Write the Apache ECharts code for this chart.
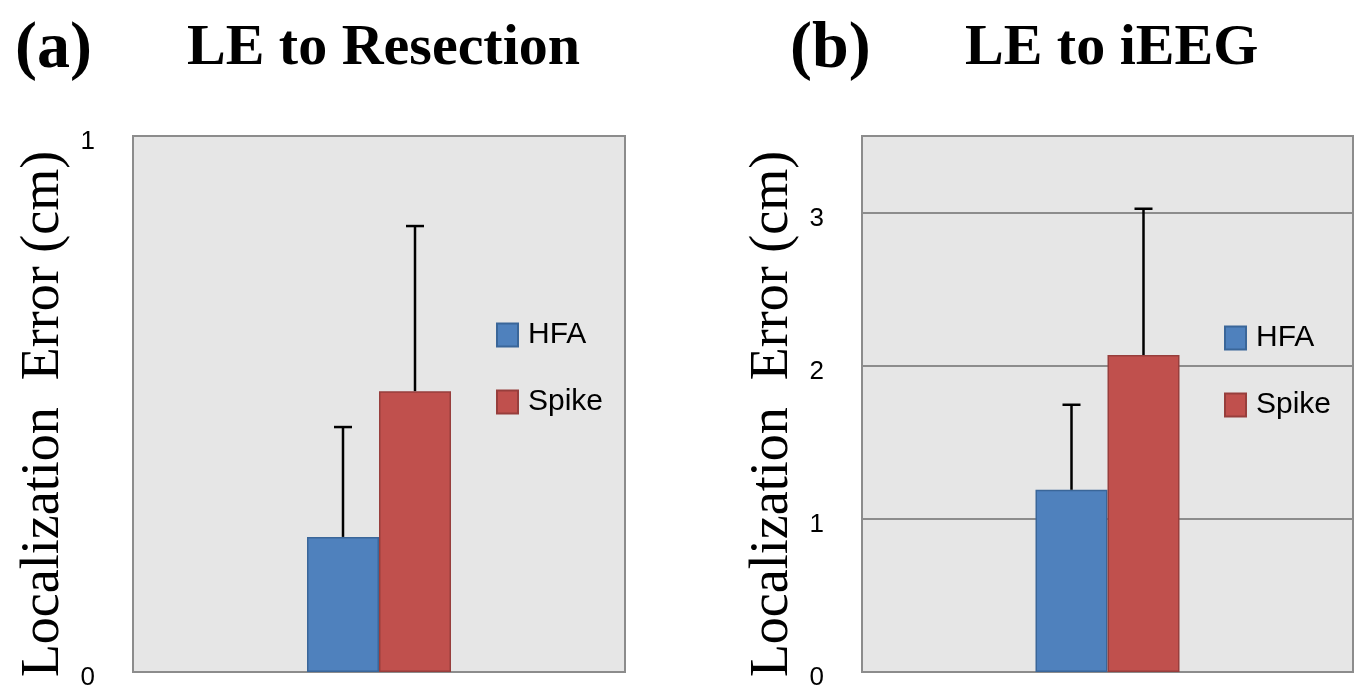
<!DOCTYPE html>
<html>
<head>
<meta charset="utf-8">
<script src="https://cdn.jsdelivr.net/npm/echarts@6/dist/echarts.min.js"></script>
<style>
html,body{margin:0;padding:0;background:#fff;}
#chart{width:1360px;height:685px;}
</style>
</head>
<body>
<div id="chart"></div>
<script>
// ---- data ----
const categories = [''];
const seriesNames = ['HFA', 'Spike'];
// (a) LE to Resection
const resectionHFA = [0.252];
const resectionHFAErr = [0.205];
const resectionSpike = [0.524];
const resectionSpikeErr = [0.308];
// (b) LE to iEEG
const ieegHFA = [1.19];
const ieegHFAErr = [0.555];
const ieegSpike = [2.07];
const ieegSpikeErr = [0.955];
// axis ticks
const resectionAxis = {min: 0, max: 1, interval: 1};
const ieegAxis = {min: 0, max: 3.5, interval: 1};
const panelTitles = ['LE to Resection', 'LE to iEEG'];
const panelTags = ['(a)', '(b)'];
const yAxisName = 'Localization  Error (cm)';

// ---- styles ----
const BLUE = '#4f81bd', BLUE_EDGE = '#3a6699';
const RED = '#c0504d', RED_EDGE = '#973e3c';
const BAR_W = 72;
const serif = '"Liberation Serif", "Times New Roman", serif';
const sans = '"Liberation Sans", Arial, sans-serif';

function errSeries(name, gridIdx, values, errs, offsetSign) {
  return {
    type: 'custom',
    name: name + ' err',
    xAxisIndex: gridIdx, yAxisIndex: gridIdx,
    z: 5,
    silent: true,
    data: values.map((v, i) => [i, v, v + errs[i]]),
    renderItem: function (params, api) {
      const base = api.coord([api.value(0), api.value(1)]);
      const top = api.coord([api.value(0), api.value(2)]);
      const x = base[0] + offsetSign * BAR_W / 2;
      const cap = 9;
      return {
        type: 'group',
        children: [
          {type: 'line', shape: {x1: x, y1: base[1], x2: x, y2: top[1]},
           style: {stroke: '#000', lineWidth: 2.5}},
          {type: 'line', shape: {x1: x - cap, y1: top[1], x2: x + cap, y2: top[1]},
           style: {stroke: '#000', lineWidth: 2.5}}
        ]
      };
    }
  };
}

function barSeries(name, gridIdx, values, color, edge) {
  return {
    type: 'bar', name: name,
    xAxisIndex: gridIdx, yAxisIndex: gridIdx,
    data: values, barWidth: BAR_W, barGap: '0%',
    itemStyle: {color: color, borderColor: edge, borderWidth: 1.5},
    z: 3
  };
}

const grids = [
  {left: 133, top: 136, width: 492, height: 536},
  {left: 862, top: 136, width: 491, height: 536}
];

function legendFor(g, top) {
  return {
    data: seriesNames,
    orient: 'vertical',
    left: g.left + g.width - 129,
    top: top,
    padding: 0,
    itemGap: 37,
    itemWidth: 21,
    itemHeight: 23,
    icon: 'rect',
    selectedMode: false,
    textStyle: {fontFamily: sans, fontSize: 30, color: '#000', lineHeight: 30, padding: [0, 0, 0, 5]}
  };
}

function yAxisFor(gridIdx, ax, showSplit) {
  return {
    type: 'value', gridIndex: gridIdx,
    min: ax.min, max: ax.max, interval: ax.interval,
    axisLine: {show: false}, axisTick: {show: false},
    splitLine: {show: showSplit, lineStyle: {color: '#8c8c8c', width: 2}},
    axisLabel: {
      fontFamily: sans, fontSize: 26, color: '#000', margin: 38,
      verticalAlign: 'top', lineHeight: 12,
      formatter: v => (Number.isInteger(v) ? String(v) : '')
    },
    name: yAxisName, nameLocation: 'middle', nameGap: 62,
    nameTextStyle: {fontFamily: serif, fontSize: 54, color: '#000', padding: [0, 20, 0, 0]}
  };
}

const option = {
  backgroundColor: '#ffffff',
  animation: false,
  title: [
    {text: panelTags[0], left: 10, top: 12, textStyle: {fontFamily: serif, fontWeight: 'bold', fontSize: 66, color: '#000', lineHeight: 66}},
    {text: panelTitles[0], left: 182, top: 15, textStyle: {fontFamily: serif, fontWeight: 'bold', fontSize: 58, color: '#000', lineHeight: 58}},
    {text: panelTags[1], left: 785, top: 12, textStyle: {fontFamily: serif, fontWeight: 'bold', fontSize: 66, color: '#000', lineHeight: 66}},
    {text: panelTitles[1], left: 960, top: 15, textStyle: {fontFamily: serif, fontWeight: 'bold', fontSize: 58, color: '#000', lineHeight: 58}}
  ],
  legend: [legendFor(grids[0], 320), legendFor(grids[1], 323)],
  grid: grids.map(g => Object.assign({
    show: true, backgroundColor: '#e6e6e6', borderColor: '#8c8c8c', borderWidth: 2,
    containLabel: false, outerBoundsMode: 'none'
  }, g)),
  xAxis: [0, 1].map(i => ({
    type: 'category', gridIndex: i, data: categories,
    axisLine: {show: false}, axisTick: {show: false}, axisLabel: {show: false},
    splitLine: {show: false}
  })),
  yAxis: [yAxisFor(0, resectionAxis, false), yAxisFor(1, ieegAxis, true)],
  series: [
    barSeries(seriesNames[0], 0, resectionHFA, BLUE, BLUE_EDGE),
    barSeries(seriesNames[1], 0, resectionSpike, RED, RED_EDGE),
    errSeries(seriesNames[0], 0, resectionHFA, resectionHFAErr, -1),
    errSeries(seriesNames[1], 0, resectionSpike, resectionSpikeErr, 1),
    barSeries(seriesNames[0], 1, ieegHFA, BLUE, BLUE_EDGE),
    barSeries(seriesNames[1], 1, ieegSpike, RED, RED_EDGE),
    errSeries(seriesNames[0], 1, ieegHFA, ieegHFAErr, -1),
    errSeries(seriesNames[1], 1, ieegSpike, ieegSpikeErr, 1)
  ]
};

const chart = echarts.init(document.getElementById('chart'), null, {renderer: 'canvas'});
chart.setOption(option);
</script>
</body>
</html>
